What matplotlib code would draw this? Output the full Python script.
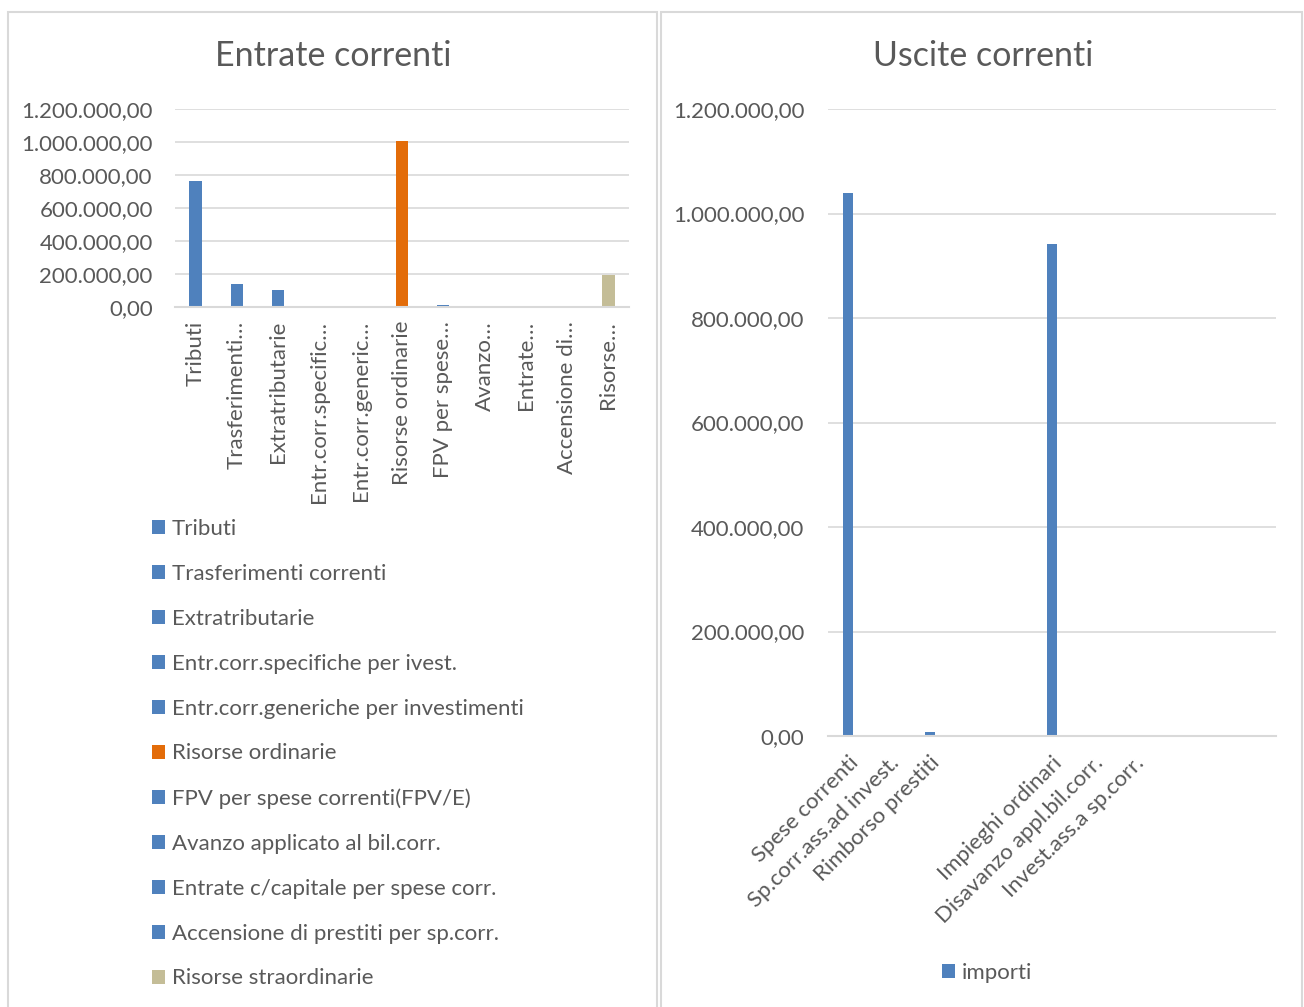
import matplotlib
matplotlib.use("Agg")
import matplotlib.pyplot as plt
from matplotlib.patches import Rectangle
from matplotlib.ticker import FuncFormatter, MultipleLocator

# data
entrate_names = ["Tributi", "Trasferimenti correnti", "Extratributarie",
                 "Entr.corr.specifiche per ivest.",
                 "Entr.corr.generiche per investimenti", "Risorse ordinarie",
                 "FPV per spese correnti(FPV/E)", "Avanzo applicato al bil.corr.",
                 "Entrate c/capitale per spese corr.",
                 "Accensione di prestiti per sp.corr.", "Risorse straordinarie"]
entrate_ticks = ["Tributi", "Trasferimenti…", "Extratributarie",
                 "Entr.corr.specific…", "Entr.corr.generic…", "Risorse ordinarie",
                 "FPV per spese…", "Avanzo…", "Entrate…", "Accensione di…",
                 "Risorse…"]
entrate_vals = [762000, 140000, 105000, 0, 0, 1007000, 15000, 0, 3000, 0, 195000]
entrate_colors = ["#4F81BD"] * 5 + ["#E36C09"] + ["#4F81BD"] * 4 + ["#C4BD97"]

uscite_cats = ["Spese correnti", "Sp.corr.ass.ad invest.", "Rimborso prestiti",
               "", "", "Impieghi ordinari", "Disavanzo appl.bil.corr.",
               "Invest.ass.a sp.corr.", "", "", ""]
uscite_vals = [1040000, 0, 8000, 0, 0, 942000, 0, 0, 0, 0, 0]

TXT = "#595959"
GRID = "#D9D9D9"
FS = 16
plt.rcParams['font.family'] = ['Lato', 'DejaVu Sans']

W, H = 1304, 1007
fig = plt.figure(figsize=(W / 100, H / 100), dpi=100)


def box(x0, y0, x1, y1):
    return [x0 / W, 1 - y1 / H, (x1 - x0) / W, (y1 - y0) / H]


def it_fmt(v, pos):
    s = f"{v:,.2f}"
    return s.replace(",", "X").replace(".", ",").replace("X", ".")


# panel borders
for (x0, x1) in [(8, 657), (661, 1302)]:
    fig.add_artist(Rectangle((x0 / W, 0 - 0.01), (x1 - x0) / W, 1 - 12 / H + 0.01,
                             transform=fig.transFigure, fill=False,
                             edgecolor="#D9D9D9", lw=1.5))


def style(ax, pad):
    ax.set_ylim(0, 1200000)
    ax.yaxis.set_major_formatter(FuncFormatter(it_fmt))
    ax.yaxis.set_major_locator(MultipleLocator(200000))
    ax.yaxis.grid(True, color=GRID, lw=1.2)
    ax.set_axisbelow(True)
    for s in ["top", "right", "left"]:
        ax.spines[s].set_visible(False)
    ax.spines["bottom"].set_color(GRID)
    ax.spines["bottom"].set_linewidth(1.5)
    ax.tick_params(axis="both", length=0, colors=TXT, labelsize=FS)
    ax.tick_params(axis="y", pad=pad)


# left chart
ax1 = fig.add_axes(box(175, 109, 629, 307))
handles = []
for i, (n, v, c) in enumerate(zip(entrate_names, entrate_vals, entrate_colors)):
    handles.append(ax1.bar(i, v, width=0.3, color=c, label=n))
ax1.set_xlim(-0.5, len(entrate_vals) - 0.5)
style(ax1, 16)
ax1.set_xticks(range(len(entrate_ticks)))
ax1.set_xticklabels(entrate_ticks, rotation=90, ha="center", va="top")
ax1.tick_params(axis="x", pad=10)
fig.text(333 / W, 1 - 56 / H, "Entrate correnti", ha="center", va="center",
         fontsize=24.5, color=TXT)
fig.legend(handles=handles, loc="upper left", bbox_to_anchor=(132 / W, 1 - 499 / H),
           frameon=False, fontsize=FS, labelcolor=TXT, handlelength=0.6,
           handleheight=0.6, handletextpad=0.3, labelspacing=1.12)

# right chart
ax2 = fig.add_axes(box(828, 109, 1276, 736))
b2 = ax2.bar(range(len(uscite_vals)), uscite_vals, width=0.25, color="#4F81BD",
             label="importi")
ax2.set_xlim(-0.5, len(uscite_vals) - 0.5)
style(ax2, 17)
ax2.set_xticks(range(len(uscite_cats)))
ax2.set_xticklabels(uscite_cats, rotation=45, ha="right", va="top",
                    rotation_mode="anchor")
ax2.tick_params(axis="x", pad=12)
fig.text(983 / W, 1 - 56 / H, "Uscite correnti", ha="center", va="center",
         fontsize=24.5, color=TXT)
fig.legend(handles=[b2], loc="center", bbox_to_anchor=(987 / W, 1 - 973 / H),
           frameon=False, fontsize=FS, labelcolor=TXT, handlelength=0.6,
           handleheight=0.6, handletextpad=0.3)

fig.savefig("out.png", dpi=100)
